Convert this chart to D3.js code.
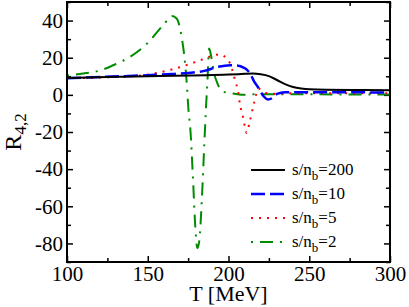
<!DOCTYPE html>
<html>
<head>
<meta charset="utf-8">
<script src="https://cdn.jsdelivr.net/npm/d3@7"></script>
<style>
  body { margin: 0; background: #fff; }
  text { font-family: "Liberation Serif", "DejaVu Serif", serif; fill: #000; }
</style>
</head>
<body>
<div class="chart"></div>
<script>
// s/n_b = 200
var tBlack = [100, 150, 200, 210, 215, 220, 225, 230, 235, 240, 245, 250, 275, 300];
var rBlack = [9.1, 10, 10.9, 11.3, 11.5, 11.1, 10.1, 8, 5.8, 4.2, 3.4, 3, 2.6, 2.5];

// s/n_b = 10
var tBlue = [100, 150, 165, 175, 185, 193, 201, 206, 209, 212, 214, 216, 218, 220, 222, 224.5, 227, 230, 235, 250, 300];
var rBlue = [9.0, 10.6, 11.2, 11.8, 12.9, 15, 16, 15.7, 14.8, 13, 10.5, 7, 4.5, 1.5, -1, -2.5, -1.8, 0.5, 1.4, 1.4, 1.3];

// s/n_b = 5
var tRed = [100, 140, 165, 180, 190, 194, 199, 203, 204, 206, 207, 209, 211.2, 213, 215.8, 218.5, 221.6, 226, 235, 300];
var rRed = [9, 10, 13.7, 17.8, 21, 21.8, 19.6, 11.5, 7.9, 1.6, -4.6, -12, -20.5, -15, -4.6, 3.4, 1.6, 0.6, 0.8, 0.8];

// s/n_b = 2
var tGreen = [100, 110, 120, 130, 140, 150, 160, 165, 168, 171, 172.5, 174, 175.2, 176.5, 178, 179.5, 180.7, 182, 183.5, 185, 186, 187, 188, 189, 190, 191, 193, 197, 203, 208, 215, 300];
var rGreen = [10.5, 11.5, 13, 16.5, 21, 28, 38, 42.4, 41, 31, 22, 8, -8, -20, -45, -72, -82.5, -78, -56, -27, -8, 8, 25, 22, 17, 12, 6.5, 1.6, 0.7, 0, 0.3, 0.2];

var legendLabels = ["200", "10", "5", "2"];
var xTicks = [100, 150, 200, 250, 300];
var xMinor = [125, 175, 225, 275];
var yTicks = [-80, -60, -40, -20, 0, 20, 40];
var yMinor = [-90, -70, -50, -30, -10, 10, 30, 50];

var margin = { top: 2, right: 19, bottom: 45, left: 67 },
    width = 409 - margin.left - margin.right,
    height = 307 - margin.top - margin.bottom;

var svg = d3.select('.chart')
    .append('svg')
    .attr("width", 409)
    .attr("height", 307)
    .append("g")
    .attr("transform", "translate(" + margin.left + "," + margin.top + ")");

var x = d3.scaleLinear().domain([100, 300]).range([0, width]);
var y = d3.scaleLinear().domain([-90, 50]).range([height, 0]);

function fmt(d) { return String(d); }

// ticks on all four sides, pointing inward
function addAxis(axis, cls, transform) {
    var g = svg.append("g").attr("class", cls).attr("transform", transform).call(axis);
    g.select(".domain").remove();
    g.selectAll("line").attr("stroke", "#000").attr("stroke-width", 1.5);
    g.selectAll("text").style("font-family", '"Liberation Serif", serif').style("font-size", "21px").attr("fill", "#000");
    return g;
}

addAxis(d3.axisBottom(x).tickValues(xTicks).tickSize(-6).tickPadding(4).tickFormat(fmt), "x-axis", "translate(0," + height + ")");
addAxis(d3.axisBottom(x).tickValues(xMinor).tickSize(-4).tickFormat(""), "x-minor", "translate(0," + height + ")");
addAxis(d3.axisTop(x).tickValues(xTicks).tickSize(-6).tickFormat(""), "x-top", "translate(0,0)");
addAxis(d3.axisTop(x).tickValues(xMinor).tickSize(-4).tickFormat(""), "x-top-minor", "translate(0,0)");

addAxis(d3.axisLeft(y).tickValues(yTicks).tickSize(-6).tickPadding(4).tickFormat(fmt), "y-axis", "translate(0,0)");
addAxis(d3.axisLeft(y).tickValues(yMinor).tickSize(-4).tickFormat(""), "y-minor", "translate(0,0)");
addAxis(d3.axisRight(y).tickValues(yTicks).tickSize(-6).tickFormat(""), "y-right", "translate(" + width + ",0)");
addAxis(d3.axisRight(y).tickValues(yMinor).tickSize(-4).tickFormat(""), "y-right-minor", "translate(" + width + ",0)");

var line = d3.line()
    .curve(d3.curveMonotoneX)
    .x(function(d) { return x(d[0]); })
    .y(function(d) { return y(d[1]); });

var series = [
    { t: tBlack, r: rBlack, color: "#000000", dash: null, w: 2 },
    { t: tBlue, r: rBlue, color: "#0000ff", dash: "14,5", w: 2.5 },
    { t: tRed, r: rRed, color: "#ff0000", dash: "2,6", w: 2 },
    { t: tGreen, r: rGreen, color: "#008c00", dash: "2,7,13,7", w: 2 }
];

svg.append("defs").append("clipPath").attr("id", "clip")
    .append("rect").attr("width", width).attr("height", height);

var plot = svg.append("g").attr("clip-path", "url(#clip)");

// draw green first so black stays on top like the original
[3, 2, 1, 0].forEach(function(i) {
    var s = series[i];
    plot.append("path")
        .datum(s.t.map(function(t, j) { return [t, s.r[j]]; }))
        .attr("d", line)
        .attr("fill", "none")
        .attr("stroke", s.color)
        .attr("stroke-width", s.w)
        .attr("stroke-dasharray", s.dash);
});

// frame
svg.append("rect")
    .attr("width", width)
    .attr("height", height)
    .attr("fill", "none")
    .attr("stroke", "#000")
    .attr("stroke-width", 2);

// legend
var legend = svg.append("g").attr("transform", "translate(184,168)");
series.forEach(function(s, i) {
    var row = legend.append("g").attr("transform", "translate(0," + (i * 24) + ")");
    row.append("line")
        .attr("x1", 0).attr("x2", 34)
        .attr("stroke", s.color)
        .attr("stroke-width", s.w)
        .attr("stroke-dasharray", s.dash);
    var txt = row.append("text").attr("x", 41).attr("y", 5).style("font-size", "17px");
    txt.append("tspan").text("s/n");
    txt.append("tspan").attr("dy", 5).style("font-size", "13px").text("b");
    txt.append("tspan").attr("dy", -5).text("=" + legendLabels[i]);
});

// axis titles
svg.append("text")
    .attr("x", width / 2)
    .attr("y", 299)
    .attr("text-anchor", "middle")
    .style("font-size", "22px")
    .text("T [MeV]");

var yl = svg.append("text")
    .attr("transform", "translate(" + (21 - margin.left) + "," + (height / 2) + ") rotate(-90)")
    .attr("text-anchor", "middle")
    .style("font-size", "24px");
yl.append("tspan").text("R");
yl.append("tspan").attr("dy", 5).style("font-size", "17px").text("4,2");
</script>
</body>
</html>
